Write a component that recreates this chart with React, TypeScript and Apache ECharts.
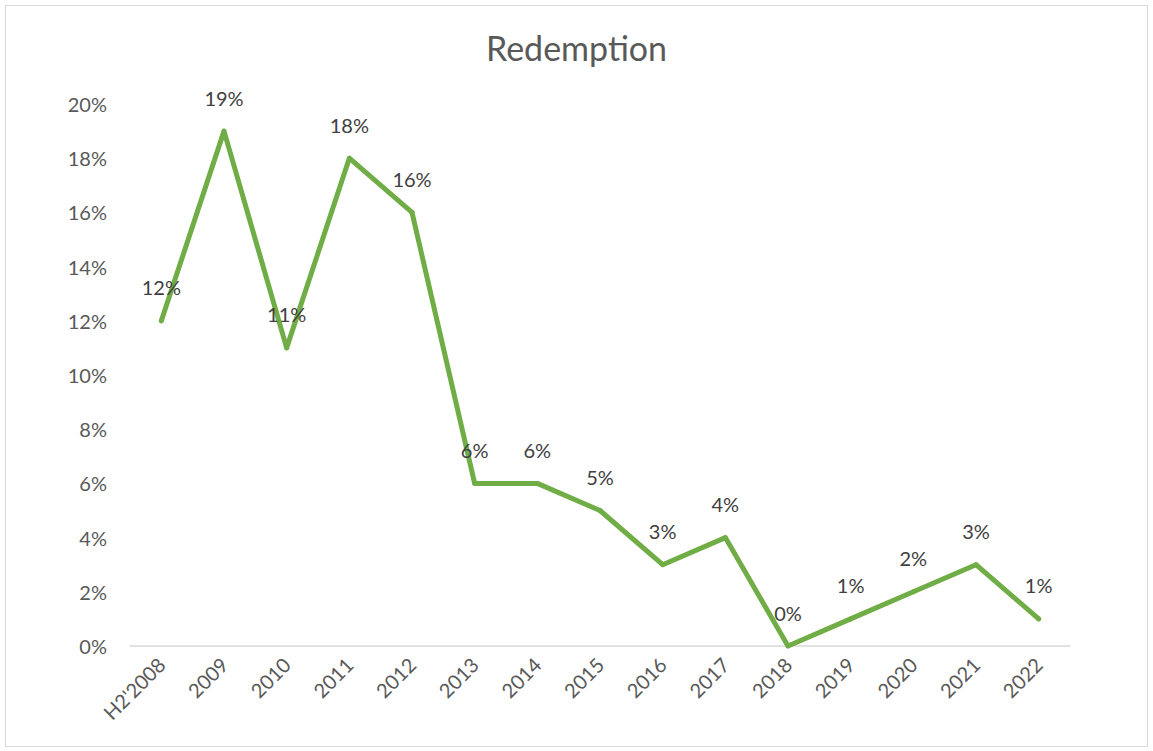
import React, { useEffect, useRef } from "react";
import * as echarts from "echarts";

const categories = ["H2'2008", "2009", "2010", "2011", "2012", "2013", "2014", "2015", "2016", "2017", "2018", "2019", "2020", "2021", "2022"];
const redemption = [0.12, 0.19, 0.11, 0.18, 0.16, 0.06, 0.06, 0.05, 0.03, 0.04, 0.0, 0.01, 0.02, 0.03, 0.01];

const FONT = "Lato, 'Open Sans', sans-serif";
const TEXT = "#595959";

export default function App() {
  const ref = useRef<HTMLDivElement>(null);
  useEffect(() => {
    if (!ref.current) return;
    const chart = echarts.init(ref.current, null, { renderer: "svg" });
    chart.setOption({
      animation: false,
      backgroundColor: "#ffffff",
      title: {
        text: "Redemption",
        left: "center",
        top: 25,
        textStyle: { fontFamily: FONT, fontSize: 34, fontWeight: "normal", color: TEXT },
      },
      graphic: [
        {
          type: "rect",
          shape: { x: 5.5, y: 5.5, width: 1142, height: 741 },
          style: { fill: "none", stroke: "#d9d9d9", lineWidth: 1 },
          silent: true,
        },
      ],
      grid: { left: 130, right: 83, top: 104, bottom: 105, containLabel: false },
      xAxis: {
        type: "category",
        data: categories,
        boundaryGap: true,
        axisLine: { show: true, lineStyle: { color: "#d9d9d9", width: 1.5 } },
        axisTick: { show: false },
        axisLabel: {
          rotate: 45,
          margin: 15,
          interval: 0,
          fontFamily: FONT,
          fontSize: 20,
          color: TEXT,
        },
      },
      yAxis: {
        type: "value",
        min: 0,
        max: 0.2,
        interval: 0.02,
        axisLine: { show: false },
        axisTick: { show: false },
        splitLine: { show: false },
        axisLabel: {
          margin: 23,
          fontFamily: FONT,
          fontSize: 20,
          color: TEXT,
          formatter: (v: number) => Math.round(v * 100) + "%",
        },
      },
      series: [
        {
          type: "line",
          data: redemption,
          symbol: "circle",
          symbolSize: 5,
          itemStyle: { color: "#70AD47" },
          lineStyle: { color: "#70AD47", width: 5, join: "round", cap: "round" },
          label: {
            show: true,
            position: "top",
            distance: 21,
            fontFamily: FONT,
            fontSize: 20,
            color: "#404040",
            formatter: (p: any) => Math.round(p.value * 100) + "%",
          },
        },
      ],
    });
    return () => chart.dispose();
  }, []);
  return (
    <div
      ref={ref}
      style={{ position: "absolute", left: 0, top: 0, width: 1153, height: 751 }}
    />
  );
}
